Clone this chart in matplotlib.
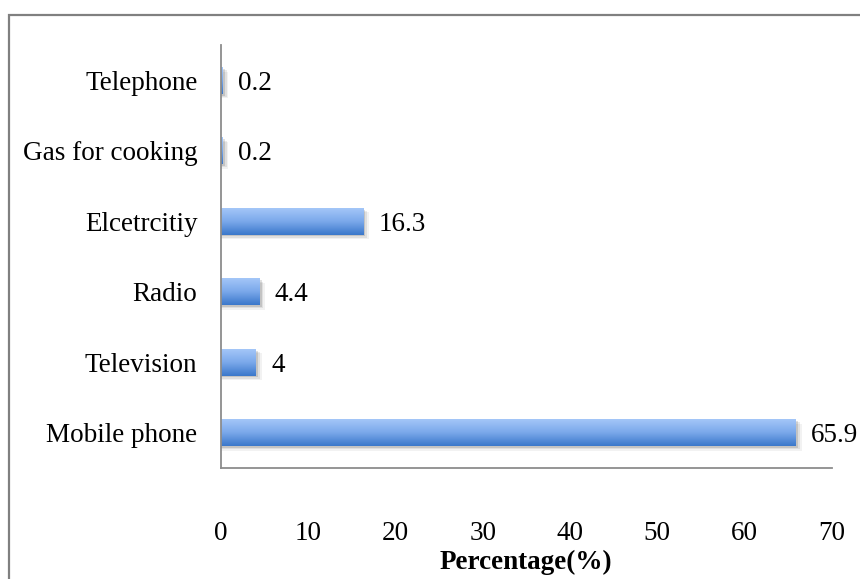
import numpy as np
import matplotlib
matplotlib.use("Agg")
import matplotlib.pyplot as plt
from matplotlib.colors import LinearSegmentedColormap
from matplotlib.patches import Rectangle

# data (bottom to top)
categories = ["Mobile phone", "Television", "Radio", "Elcetrcitiy", "Gas for cooking", "Telephone"]
values = [65.9, 4, 4.4, 16.3, 0.2, 0.2]
value_labels = ["65.9", "4", "4.4", "16.3", "0.2", "0.2"]
x_ticks = [0, 10, 20, 30, 40, 50, 60, 70]

plt.rcParams['font.family'] = ['Liberation Serif', 'DejaVu Serif']
FS = 19.5

fig = plt.figure(figsize=(8.6, 5.79), dpi=100)
ax = fig.add_axes([0.257, 0.192, 0.71, 0.730])

# outer chart frame
fig.patches.append(Rectangle((9 / 860, -0.05), 1.1, 1 - 15 / 579 + 0.05,
                             transform=fig.transFigure, fill=False,
                             edgecolor="#808080", linewidth=1.6, zorder=0))

bar_h = 0.38
bars = ax.barh(categories, values, height=bar_h, color="none", edgecolor="none")

# gradient fill: light blue on top, darker blue at bottom
cmap = LinearSegmentedColormap.from_list("bar", ["#3b78cb", "#7aa8ea", "#a4c6f8"])
grad = np.linspace(0, 1, 64).reshape(-1, 1)
for p in bars.patches:
    x0, y0, w, h = p.get_x(), p.get_y(), p.get_width(), p.get_height()
    # soft shadow
    for k, a in enumerate([0.12, 0.08, 0.05]):
        d = 0.025 + 0.02 * k
        ax.add_patch(Rectangle((x0, y0 - d), w + 0.25 + 0.2 * k, h, facecolor="black",
                               alpha=a, edgecolor="none", zorder=1))
    ax.imshow(grad, extent=[x0, x0 + w, y0, y0 + h], origin="lower", aspect="auto",
              cmap=cmap, zorder=2, interpolation="bilinear")

for p, lab in zip(bars.patches, value_labels):
    ax.annotate(lab, (p.get_width(), p.get_y() + p.get_height() / 2),
                xytext=(11, 0), textcoords="offset points",
                va="center_baseline", ha="left", fontsize=FS, color="black")

ax.set_xlim(0, 70)
ax.set_ylim(-0.5, 5.5)
ax.set_xticks(x_ticks)
ax.set_yticks(range(len(categories)))
ax.set_yticklabels(categories, va="center_baseline")
ax.tick_params(axis="x", length=0, pad=38, labelsize=FS)
ax.tick_params(axis="y", length=0, pad=17, labelsize=FS)
ax.set_xlabel("Percentage(%)", fontsize=FS, fontweight="bold", labelpad=3)

for s in ["top", "right"]:
    ax.spines[s].set_visible(False)
for s in ["left", "bottom"]:
    ax.spines[s].set_color("#8c8c8c")
    ax.spines[s].set_linewidth(1.3)

fig.savefig("out.png", dpi=100)
